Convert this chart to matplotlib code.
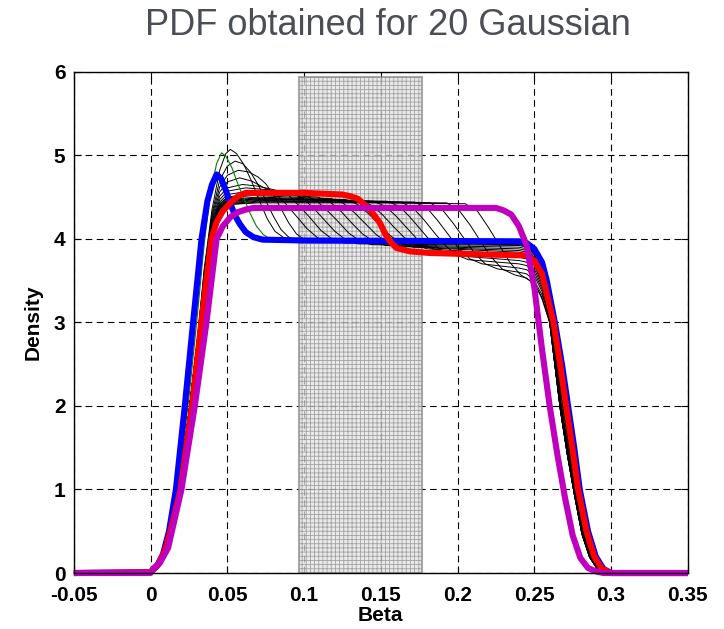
import numpy as np
import matplotlib
matplotlib.use("Agg")
import matplotlib.pyplot as plt
from matplotlib import font_manager
from matplotlib.patches import Rectangle

# axis setup
X_TICKS = [-0.05, 0.0, 0.05, 0.10, 0.15, 0.20, 0.25, 0.30, 0.35]
X_TICK_LABELS = ["-0.05", "0", "0.05", "0.1", "0.15", "0.2", "0.25", "0.3", "0.35"]
Y_TICKS = [0, 1, 2, 3, 4, 5, 6]

# shaded interval of Beta
BAND_X = [0.097, 0.177]
BAND_TOP = 5.94

# thick curves
BLUE_X = [-0.05, 0.0, 0.004, 0.008, 0.012, 0.0165, 0.0223, 0.0277, 0.0332, 0.037,
          0.040, 0.043, 0.046, 0.049, 0.052, 0.055, 0.058, 0.062, 0.067, 0.073,
          0.10, 0.24, 0.245, 0.25, 0.255, 0.258, 0.2634, 0.268, 0.272, 0.276,
          0.2796, 0.285, 0.29, 0.295, 0.30, 0.35]
BLUE_Y = [0.0, 0.01, 0.08, 0.22, 0.5, 1.0, 2.0, 3.0, 4.0, 4.45,
          4.65, 4.77, 4.72, 4.58, 4.42, 4.28, 4.18, 4.08, 4.02, 3.99,
          3.98, 3.97, 3.95, 3.88, 3.72, 3.51, 3.0, 2.5, 2.0, 1.5,
          1.0, 0.5, 0.2, 0.05, 0.0, 0.0]

GREEN_X = [-0.05, 0.0, 0.005, 0.01, 0.015, 0.02, 0.025, 0.03, 0.035, 0.039,
           0.043, 0.0462, 0.049, 0.053, 0.057, 0.0615, 0.0647, 0.069, 0.0735, 0.0777,
           0.09, 0.24, 0.245, 0.25, 0.255, 0.258, 0.2634, 0.268, 0.272, 0.276,
           0.2796, 0.285, 0.29, 0.295, 0.30, 0.35]
GREEN_Y = [0.0, 0.01, 0.1, 0.32, 0.75, 1.35, 2.1, 3.0, 3.95, 4.55,
           4.9, 5.03, 4.99, 4.85, 4.65, 4.45, 4.31, 4.15, 4.05, 4.0,
           3.98, 3.97, 3.95, 3.88, 3.72, 3.51, 3.0, 2.5, 2.0, 1.5,
           1.0, 0.5, 0.2, 0.05, 0.0, 0.0]

RED_X = [-0.05, 0.0, 0.005, 0.01, 0.0145, 0.0195, 0.027, 0.033, 0.0397, 0.043,
         0.047, 0.052, 0.057, 0.062, 0.10, 0.125, 0.13, 0.135, 0.1407, 0.145,
         0.1494, 0.1537, 0.157, 0.1602, 0.1689, 0.182, 0.245, 0.25, 0.255, 0.2625,
         0.2668, 0.2707, 0.2748, 0.2785, 0.284, 0.289, 0.294, 0.30, 0.35]
RED_Y = [0.0, 0.01, 0.1, 0.3, 0.62, 1.0, 2.0, 3.0, 4.0, 4.2,
         4.33, 4.43, 4.51, 4.55, 4.55, 4.53, 4.51, 4.48, 4.39, 4.3,
         4.19, 4.03, 3.95, 3.89, 3.85, 3.83, 3.8, 3.74, 3.58, 3.0,
         2.5, 2.0, 1.5, 1.0, 0.5, 0.2, 0.05, 0.0, 0.0]

MAGENTA_X = [-0.05, 0.0, 0.0015, 0.006, 0.0114, 0.0201, 0.0288, 0.0364, 0.043, 0.047,
             0.052, 0.057, 0.062, 0.067, 0.225, 0.23, 0.235, 0.24, 0.245, 0.25,
             0.255, 0.26, 0.265, 0.27, 0.275, 0.28, 0.285, 0.29, 0.295, 0.35]
MAGENTA_Y = [0.0, 0.0, 0.05, 0.12, 0.3, 1.0, 2.0, 3.0, 4.0, 4.15,
             4.26, 4.32, 4.35, 4.37, 4.37, 4.34, 4.29, 4.15, 3.92, 3.42,
             2.68, 2.0, 1.42, 0.9, 0.45, 0.18, 0.06, 0.02, 0.0, 0.0]

# thin black family: common rise, own middle part, one of three falls
BLACK_RISE_X = [-0.05, 0.0, 0.005, 0.01, 0.015, 0.02, 0.025, 0.03]
BLACK_RISE_Y = [0.0, 0.01, 0.1, 0.32, 0.72, 1.25, 1.92, 2.7]

BLACK_FALL_X = [0.26, 0.263, 0.267, 0.2715, 0.276, 0.281, 0.286, 0.291, 0.297, 0.35]
BLACK_FALL_Y = [
    [3.0, 2.55, 1.95, 1.42, 0.95, 0.47, 0.19, 0.05, 0.0, 0.0],
    [3.1, 2.68, 2.06, 1.52, 1.03, 0.52, 0.22, 0.06, 0.0, 0.0],
    [3.2, 2.8, 2.2, 1.65, 1.12, 0.58, 0.25, 0.07, 0.0, 0.0],
]

BLACK_MID = [
    [(0.035, 3.65), (0.04, 4.35), (0.045, 4.82), (0.049, 5.02), (0.052, 5.07), (0.056, 5.02),
     (0.061, 4.88), (0.066, 4.68), (0.071, 4.45), (0.076, 4.24), (0.081, 4.09), (0.087, 4.01),
     (0.095, 3.98), (0.24, 3.96), (0.245, 3.94), (0.25, 3.86), (0.255, 3.62)],
    [(0.035, 3.62), (0.04, 4.3), (0.045, 4.7), (0.05, 4.87), (0.055, 4.93), (0.06, 4.9),
     (0.065, 4.8), (0.07, 4.65), (0.075, 4.46), (0.08, 4.27), (0.085, 4.11), (0.09, 4.02),
     (0.097, 3.97), (0.24, 3.95), (0.245, 3.93), (0.25, 3.85), (0.255, 3.6)],
    [(0.035, 3.6), (0.04, 4.27), (0.045, 4.62), (0.05, 4.76), (0.057, 4.82), (0.064, 4.8),
     (0.07, 4.74), (0.075, 4.66), (0.08, 4.53), (0.085, 4.36), (0.09, 4.19), (0.095, 4.06),
     (0.1, 3.99), (0.108, 3.96), (0.24, 3.94), (0.245, 3.92), (0.25, 3.84), (0.255, 3.59)],
    [(0.035, 3.58), (0.04, 4.24), (0.045, 4.56), (0.05, 4.68), (0.058, 4.73), (0.066, 4.69),
     (0.073, 4.62), (0.081, 4.55), (0.088, 4.42), (0.095, 4.27), (0.102, 4.12), (0.109, 4.01),
     (0.117, 3.96), (0.24, 3.94), (0.245, 3.92), (0.25, 3.84), (0.255, 3.58)],
    [(0.035, 3.56), (0.04, 4.21), (0.045, 4.51), (0.05, 4.61), (0.06, 4.65), (0.07, 4.63),
     (0.082, 4.58), (0.09, 4.52), (0.097, 4.39), (0.104, 4.25), (0.111, 4.1), (0.118, 4.0),
     (0.126, 3.95), (0.24, 3.93), (0.245, 3.91), (0.25, 3.83), (0.255, 3.57)],
    [(0.035, 3.55), (0.04, 4.19), (0.045, 4.47), (0.05, 4.57), (0.062, 4.61), (0.075, 4.59),
     (0.091, 4.55), (0.099, 4.49), (0.106, 4.37), (0.113, 4.23), (0.12, 4.09), (0.127, 3.99),
     (0.135, 3.94), (0.24, 3.92), (0.245, 3.9), (0.25, 3.82), (0.255, 3.56)],
    [(0.035, 3.54), (0.04, 4.17), (0.045, 4.44), (0.05, 4.53), (0.064, 4.57), (0.08, 4.55),
     (0.1, 4.52), (0.108, 4.46), (0.115, 4.34), (0.122, 4.21), (0.129, 4.07), (0.136, 3.98),
     (0.144, 3.93), (0.24, 3.9), (0.245, 3.88), (0.25, 3.8), (0.255, 3.55)],
    [(0.035, 3.53), (0.04, 4.16), (0.045, 4.42), (0.05, 4.5), (0.066, 4.54), (0.085, 4.52),
     (0.109, 4.5), (0.117, 4.44), (0.124, 4.33), (0.131, 4.19), (0.138, 4.06), (0.145, 3.97),
     (0.153, 3.92), (0.24, 3.88), (0.245, 3.86), (0.25, 3.78), (0.255, 3.53)],
    [(0.035, 3.52), (0.04, 4.15), (0.045, 4.41), (0.05, 4.49), (0.068, 4.52), (0.09, 4.5),
     (0.118, 4.48), (0.126, 4.42), (0.133, 4.31), (0.14, 4.18), (0.147, 4.05), (0.154, 3.96),
     (0.162, 3.91), (0.24, 3.86), (0.245, 3.84), (0.25, 3.76), (0.255, 3.52)],
    [(0.035, 3.51), (0.04, 4.14), (0.045, 4.4), (0.05, 4.47), (0.07, 4.5), (0.1, 4.48),
     (0.127, 4.47), (0.135, 4.41), (0.142, 4.3), (0.149, 4.17), (0.156, 4.04), (0.163, 3.95),
     (0.171, 3.9), (0.24, 3.84), (0.245, 3.82), (0.25, 3.74), (0.255, 3.5)],
    [(0.035, 3.5), (0.04, 4.13), (0.045, 4.39), (0.05, 4.46), (0.07, 4.49), (0.1, 4.47),
     (0.136, 4.46), (0.144, 4.4), (0.151, 4.29), (0.158, 4.15), (0.165, 4.02), (0.172, 3.93),
     (0.18, 3.88), (0.24, 3.81), (0.245, 3.79), (0.25, 3.71), (0.255, 3.48)],
    [(0.035, 3.5), (0.04, 4.12), (0.045, 4.38), (0.05, 4.45), (0.07, 4.48), (0.11, 4.47),
     (0.145, 4.45), (0.153, 4.39), (0.16, 4.27), (0.167, 4.13), (0.174, 3.99), (0.181, 3.9),
     (0.189, 3.85), (0.24, 3.78), (0.245, 3.76), (0.25, 3.68), (0.255, 3.46)],
    [(0.035, 3.49), (0.04, 4.12), (0.045, 4.38), (0.05, 4.45), (0.07, 4.48), (0.11, 4.46),
     (0.154, 4.45), (0.162, 4.39), (0.169, 4.26), (0.176, 4.11), (0.183, 3.96), (0.19, 3.85),
     (0.198, 3.8), (0.24, 3.74), (0.245, 3.72), (0.25, 3.64), (0.255, 3.43)],
    [(0.035, 3.49), (0.04, 4.11), (0.045, 4.37), (0.05, 4.44), (0.07, 4.47), (0.12, 4.46),
     (0.163, 4.44), (0.171, 4.37), (0.178, 4.23), (0.185, 4.07), (0.192, 3.92), (0.199, 3.81),
     (0.207, 3.75), (0.24, 3.7), (0.245, 3.68), (0.25, 3.6), (0.255, 3.4)],
    [(0.035, 3.48), (0.04, 4.11), (0.045, 4.36), (0.05, 4.43), (0.07, 4.46), (0.12, 4.45),
     (0.172, 4.44), (0.18, 4.37), (0.187, 4.22), (0.194, 4.05), (0.201, 3.88), (0.208, 3.76),
     (0.216, 3.7), (0.24, 3.65), (0.245, 3.63), (0.25, 3.56), (0.255, 3.37)],
    [(0.035, 3.48), (0.04, 4.1), (0.045, 4.36), (0.05, 4.42), (0.07, 4.45), (0.13, 4.44),
     (0.182, 4.43), (0.19, 4.35), (0.197, 4.19), (0.204, 4.01), (0.211, 3.83), (0.218, 3.7),
     (0.226, 3.64), (0.24, 3.6), (0.245, 3.58), (0.25, 3.5), (0.255, 3.33)],
    [(0.035, 3.47), (0.04, 4.1), (0.045, 4.35), (0.05, 4.41), (0.07, 4.44), (0.13, 4.44),
     (0.193, 4.43), (0.201, 4.34), (0.208, 4.17), (0.215, 3.97), (0.222, 3.78), (0.229, 3.64),
     (0.237, 3.57), (0.245, 3.53), (0.25, 3.46), (0.255, 3.3)],
    [(0.035, 3.47), (0.04, 4.09), (0.045, 4.35), (0.05, 4.41), (0.07, 4.43), (0.14, 4.43),
     (0.205, 4.42), (0.213, 4.33), (0.22, 4.14), (0.227, 3.93), (0.234, 3.72), (0.241, 3.57),
     (0.247, 3.5), (0.252, 3.4), (0.255, 3.28)],
]
BLACK_FALL_PICK = [2, 2, 1, 2, 1, 0, 1, 2, 0, 1, 1, 0, 2, 1, 0, 1, 0, 0]


def pick_font(names):
    """
    Return the first installed family of a list.
    """
    installed = {f.name for f in font_manager.fontManager.ttflist}
    for name in names:
        if name in installed:
            return name
    return "DejaVu Sans"


def draw_black_family(ax):
    """
    Draw the thin black curves of the family.
    """
    for mid, pick in zip(BLACK_MID, BLACK_FALL_PICK):
        xs = BLACK_RISE_X + [p[0] for p in mid] + BLACK_FALL_X
        ys = BLACK_RISE_Y + [p[1] for p in mid] + BLACK_FALL_Y[pick]
        ax.plot(xs, ys, color="black", linewidth=0.7, zorder=3)


bold_font = pick_font(["Liberation Sans Narrow", "Liberation Sans", "Arial"])
title_font = pick_font(["Liberation Sans", "Roboto"])

plt.rcParams["hatch.color"] = "#bdbdbd"
plt.rcParams["hatch.linewidth"] = 0.6

fig = plt.figure(figsize=(7.24, 6.29), dpi=100)
ax = fig.add_axes([0.102, 0.089, 0.848, 0.797])

band = Rectangle(
    (BAND_X[0], 0),
    BAND_X[1] - BAND_X[0],
    BAND_TOP,
    facecolor="#e2e2e2",
    edgecolor="#8c8c8c",
    hatch="++++",
    linewidth=1.5,
    alpha=0.75,
    zorder=2,
)
ax.add_patch(band)

draw_black_family(ax)
ax.plot(GREEN_X, GREEN_Y, color="#008000", linewidth=0.8, zorder=3)
ax.plot(BLUE_X, BLUE_Y, color="#0000ff", linewidth=4.4, zorder=4,
        solid_capstyle="butt", clip_on=False)
ax.plot(RED_X, RED_Y, color="#ff0000", linewidth=4.4, zorder=5,
        solid_capstyle="butt", clip_on=False)
ax.plot(MAGENTA_X, MAGENTA_Y, color="#bf00bf", linewidth=4.4, zorder=6,
        solid_capstyle="butt", clip_on=False)

ax.set_xlim(-0.05, 0.35)
ax.set_ylim(0, 6)
ax.set_xticks(X_TICKS)
ax.set_xticklabels(X_TICK_LABELS)
ax.set_yticks(Y_TICKS)

ax.grid(True, color="black", linestyle=(0, (6, 4)), linewidth=0.8)
ax.set_axisbelow(True)
ax.tick_params(direction="in", length=5, width=0.8, top=True, right=True,
               labelsize=15)
ax.tick_params(axis="x", pad=9)
ax.tick_params(axis="y", pad=6)
for label in ax.get_xticklabels() + ax.get_yticklabels():
    label.set_fontfamily(bold_font)
    label.set_fontweight("bold")
for spine in ax.spines.values():
    spine.set_linewidth(1.0)
    spine.set_color("black")
    spine.set_zorder(7)

ax.set_xlabel("Beta", fontsize=15, fontweight="bold", family=bold_font,
              labelpad=1)
ax.set_ylabel("Density", fontsize=15, fontweight="bold", family=bold_font,
              labelpad=8)

fig.text(0.536, 0.96, "PDF obtained for 20 Gaussian", ha="center",
         va="center", fontsize=26, color="#4a4f56", family=title_font)

fig.savefig("out.png", dpi=100)
